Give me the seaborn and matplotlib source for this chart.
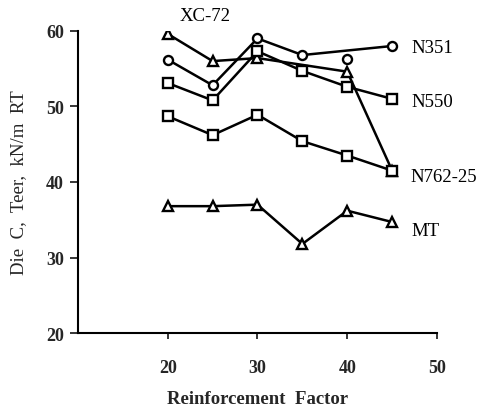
import matplotlib
matplotlib.use("Agg")
import matplotlib.pyplot as plt
import seaborn as sns
import pandas as pd

# Die C tear strength vs. reinforcement factor for several carbon blacks
rf_xc72 = [20, 25, 30, 40, 45]
tear_xc72 = [59.6, 56.0, 56.4, 54.6, 41.5]

rf_n351 = [20, 25, 30, 35, 40, 45]
tear_n351 = [56.2, 52.8, 59.0, 56.8, 56.3, 58.0]
n351_line_rf = [20, 25, 30, 35, 45]          # the 40 reading sits off the trend line

rf_n550 = [20, 25, 30, 35, 40, 45]
tear_n550 = [53.1, 50.8, 57.3, 54.7, 52.6, 51.0]

rf_n762 = [20, 25, 30, 35, 40, 45]
tear_n762 = [48.7, 46.2, 48.9, 45.4, 43.5, 41.5]

rf_mt = [20, 25, 30, 35, 40, 45]
tear_mt = [36.8, 36.8, 37.0, 31.8, 36.2, 34.7]

x_ticks = [20, 30, 40, 50]
y_ticks = [20, 30, 40, 50, 60]

sns.set_theme(style="ticks")
plt.rcParams["font.family"] = ["Liberation Serif", "DejaVu Serif"]

fig = plt.figure(figsize=(4.84, 4.14), dpi=100)
ax = fig.add_axes([0.161, 0.193, 0.742, 0.730])

line_kw = dict(color="black", linewidth=1.8, ax=ax, legend=False)
mk_kw = dict(linestyle="none", markerfacecolor="white", markeredgecolor="black",
             markeredgewidth=1.7, markersize=6.5, zorder=5)

series = [
    (rf_xc72, tear_xc72, rf_xc72, "^"),
    (rf_n351, tear_n351, n351_line_rf, "o"),
    (rf_n550, tear_n550, rf_n550, "s"),
    (rf_n762, tear_n762, rf_n762, "s"),
    (rf_mt, tear_mt, rf_mt, "^"),
]
for rf, tear, line_rf, mk in series:
    df = pd.DataFrame({"rf": rf, "tear": tear})
    sel = df[df["rf"].isin(line_rf)]
    sns.lineplot(data=sel, x="rf", y="tear", **line_kw)
    ax.plot(df["rf"], df["tear"], marker=mk, **mk_kw)

# series labels
lab_kw = dict(fontsize=13.5, color="black", va="center", ha="left")
ax.text(21.3, 62.1, "XC-72", **lab_kw)
ax.text(47.2, 57.8, "N351", **lab_kw)
ax.text(47.2, 50.6, "N550", **lab_kw)
ax.text(47.0, 40.7, "N762-25", **lab_kw)
ax.text(47.2, 33.6, "MT", **lab_kw)

ax.set_xlim(10, 50)
ax.set_ylim(20, 60)
ax.set_xticks(x_ticks)
ax.set_yticks(y_ticks)
ax.tick_params(axis="x", direction="out", length=4, width=1.3, pad=15, labelsize=13)
ax.tick_params(axis="y", direction="out", length=6, width=1.3, pad=4, labelsize=13)
for lab in ax.get_xticklabels() + ax.get_yticklabels():
    lab.set_fontweight("bold")
for s in ["top", "right"]:
    ax.spines[s].set_visible(False)
for s in ["left", "bottom"]:
    ax.spines[s].set_linewidth(1.5)
    ax.spines[s].set_color("black")
ax.set_xlabel("Reinforcement  Factor", fontsize=13.5, fontweight="bold", labelpad=10)
ax.set_ylabel("Die  C,  Teer,  kN/m  RT", fontsize=13.5, labelpad=14)
ax.set_facecolor("white")

fig.savefig("out.png", dpi=100, facecolor="white")
